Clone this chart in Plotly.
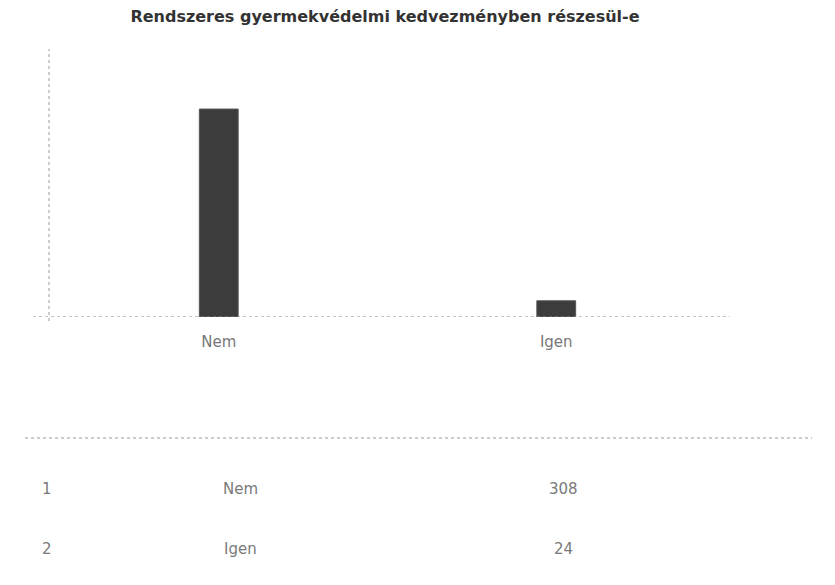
import plotly.graph_objects as go

title = "Rendszeres gyermekvédelmi kedvezményben részesül-e"
categories = ["Nem", "Igen"]
counts = [308, 24]
row_ids = ["1", "2"]

W, H = 835, 585
OX, OY = 8, 7  # page offset of the plot inside the browser
L, R, T, B = 42, 118, 43, 276
pw, ph = W - L - R, H - T - B


def px(x):
    return (x - OX - L) / pw


def py(y):
    return (H - B - (y - OY)) / ph


fig = go.Figure(go.Bar(
    x=categories, y=counts, width=0.115,
    marker=dict(color="#3c3c3c", line=dict(color="#555555", width=1)),
    hoverinfo="x+y",
))

shapes = [
    dict(type="line", xref="paper", yref="paper", x0=px(49), x1=px(49), y0=py(320), y1=py(48),
         line=dict(color="#999999", width=1, dash="dot")),
    dict(type="line", xref="paper", yref="y", x0=px(33), x1=px(730), y0=0, y1=0,
         line=dict(color="#888888", width=1, dash="dot")),
    dict(type="line", xref="paper", yref="paper", x0=px(25), x1=px(812), y0=py(437), y1=py(437),
         line=dict(color="#999999", width=1, dash="dot")),
    dict(type="line", xref="paper", yref="paper", x0=px(5), x1=px(5), y0=py(580), y1=py(0),
         line=dict(color="#bbbbbb", width=1, dash="dot")),
    dict(type="line", xref="paper", yref="paper", x0=px(830), x1=px(830), y0=py(580), y1=py(440),
         line=dict(color="#cccccc", width=1, dash="dot")),
]

annotations = []
row_y = [488, 548]
for rid, cat, val, yy in zip(row_ids, categories, counts, row_y):
    for txt, xx in [(rid, 47), (cat, 240), (str(val), 563)]:
        annotations.append(dict(
            text=txt, xref="paper", yref="paper", x=px(xx), y=py(yy),
            showarrow=False, xanchor="center", yanchor="middle",
            font=dict(family="DejaVu Sans", size=15, color="#7a7a7a"),
        ))

fig.update_layout(
    width=W, height=H,
    margin=dict(l=L, r=R, t=T, b=B),
    paper_bgcolor="white", plot_bgcolor="white",
    title=dict(text="<b>" + title + "</b>", x=(385 - OX) / W, xanchor="center",
               y=1 - 3 / H, yanchor="top",
               font=dict(family="DejaVu Sans", size=16, color="#333333")),
    xaxis=dict(showgrid=False, showline=False, zeroline=False, ticks="",
               ticklabelstandoff=14,
               tickfont=dict(family="DejaVu Sans", size=15, color="#777777")),
    yaxis=dict(range=[0, 394], showgrid=False, showline=False, zeroline=False,
               showticklabels=False, ticks=""),
    shapes=shapes, annotations=annotations,
    showlegend=False,
)

fig.write_html("out.html")
